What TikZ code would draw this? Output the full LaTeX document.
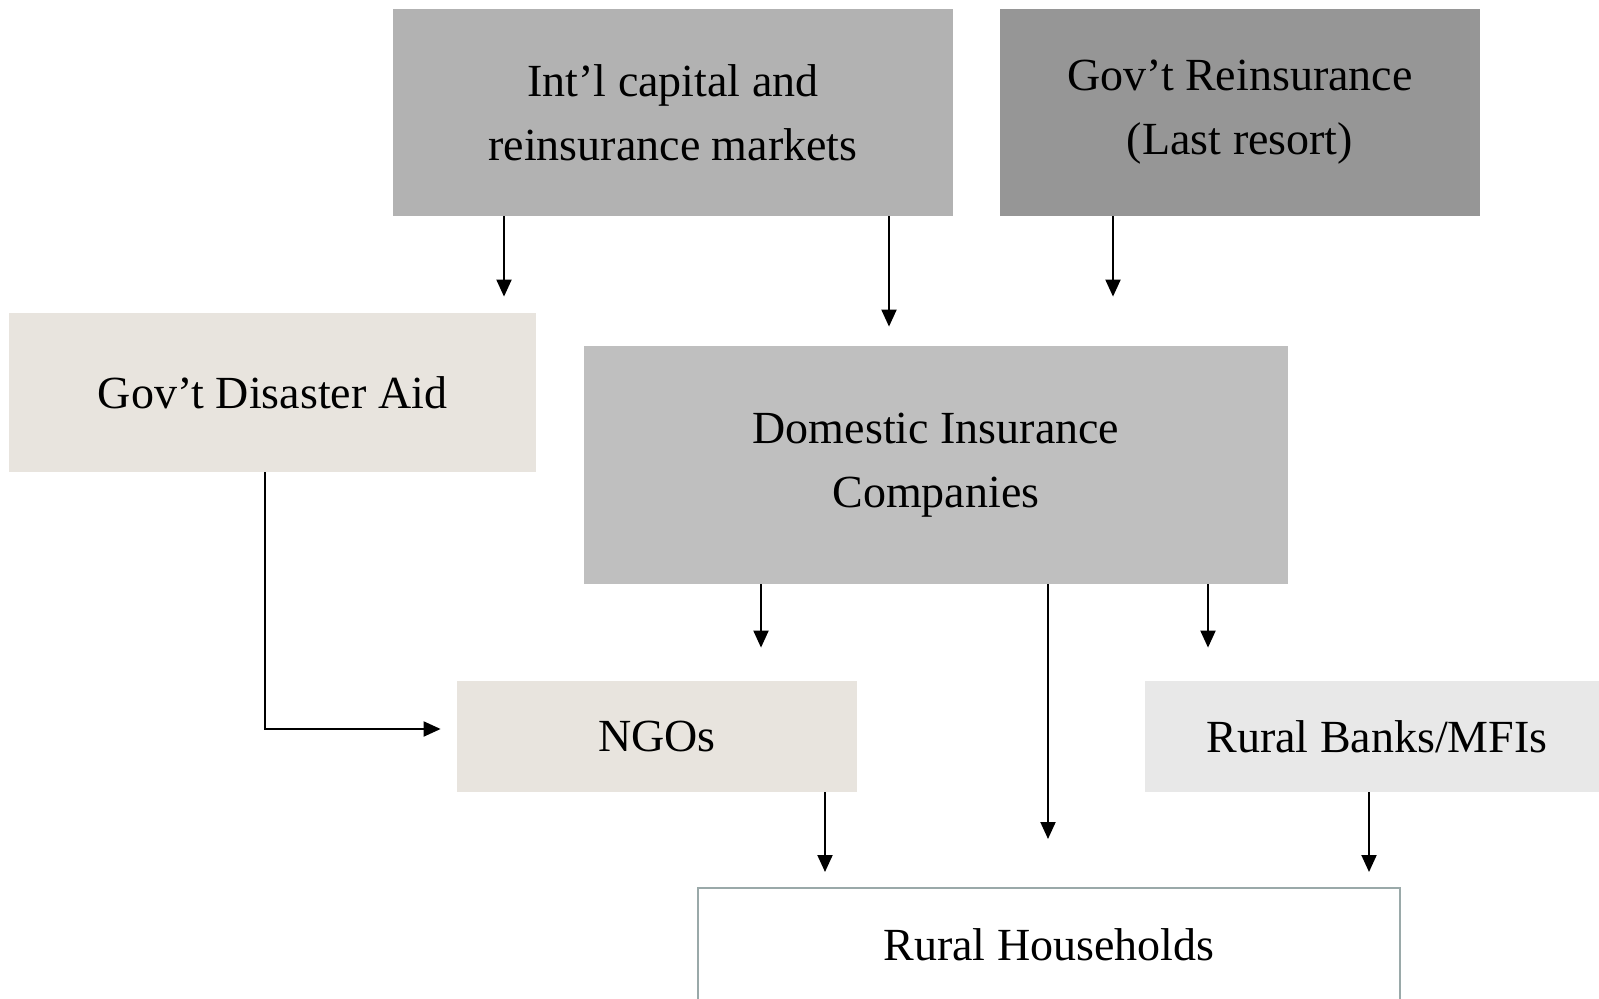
\documentclass[tikz,border=0pt]{standalone}
\usepackage{fontspec}
\setmainfont{Liberation Serif}
\usetikzlibrary{arrows.meta}
\definecolor{intlgray}{HTML}{B2B2B2}
\definecolor{govgray}{HTML}{969696}
\definecolor{domgray}{HTML}{BFBFBF}
\definecolor{beige}{HTML}{E8E4DE}
\definecolor{lightgray}{HTML}{E8E8E8}
\definecolor{hhborder}{HTML}{9AA9A9}
\begin{document}
\begin{tikzpicture}[x=0.5pt,y=-0.5pt,
  box/.style={rectangle, inner sep=0pt, align=center,
    font=\fontsize{23pt}{32pt}\selectfont, text=black},
  arr/.style={-{Triangle[length=8.5pt,width=7.5pt]}, line width=1pt, black}]
\useasboundingbox (0,0) rectangle (1599,999);
\clip (0,0) rectangle (1599,999);

% boxes
\node[box, fill=intlgray, minimum width=280pt, minimum height=103.5pt] (intl) at (673,112.5)
  {Int’l capital and\\reinsurance markets};
\node[box, fill=govgray, minimum width=240pt, minimum height=103.5pt] (gre) at (1240,112.5)
  {Gov’t Reinsurance\\(Last resort)};
\node[box, fill=beige, minimum width=263.5pt, minimum height=79.5pt] (aid) at (272.5,392.5)
  {Gov’t Disaster Aid};
\node[box, fill=domgray, minimum width=352pt, minimum height=119pt] (dom) at (936,465)
  {Domestic Insurance\\Companies};
\node[box, fill=beige, minimum width=200pt, minimum height=55.5pt] (ngo) at (657,736.5)
  {NGOs};
\node[box, fill=lightgray, minimum width=232pt, minimum height=55.5pt] (rb) at (1377,736.5)
  {Rural Banks/MFIs};
\node[box, fill=white, draw=hhborder, line width=1pt, minimum width=351pt, minimum height=57pt] (hh) at (1049,945)
  {Rural Households};

% connector columns
\coordinate (x1) at (504,0);
\coordinate (x2) at (889,0);
\coordinate (x3) at (1113,0);
\coordinate (x4) at (265,0);
\coordinate (y4) at (0,729);
\coordinate (x5) at (761,0);
\coordinate (x6) at (1048,0);
\coordinate (x7) at (1208,0);
\coordinate (x8) at (825,0);
\coordinate (x9) at (1369,0);

% connectors
\draw[arr, shorten >=8pt] (intl.south -| x1) -- (aid.north -| x1);
\draw[arr, shorten >=9.5pt] (intl.south -| x2) -- (dom.north -| x2);
\draw[arr, shorten >=24.5pt] (gre.south -| x3) -- (dom.north -| x3);
\draw[arr, shorten >=8pt] (aid.south -| x4) |- (ngo.west |- y4);
\draw[arr, shorten >=16.5pt] (dom.south -| x5) -- (ngo.north -| x5);
\draw[arr, shorten >=24pt] (dom.south -| x6) -- (hh.north -| x6);
\draw[arr, shorten >=16.5pt] (dom.south -| x7) -- (rb.north -| x7);
\draw[arr, shorten >=7.5pt] (ngo.south -| x8) -- (hh.north -| x8);
\draw[arr, shorten >=7.5pt] (rb.south -| x9) -- (hh.north -| x9);
\end{tikzpicture}
\end{document}
